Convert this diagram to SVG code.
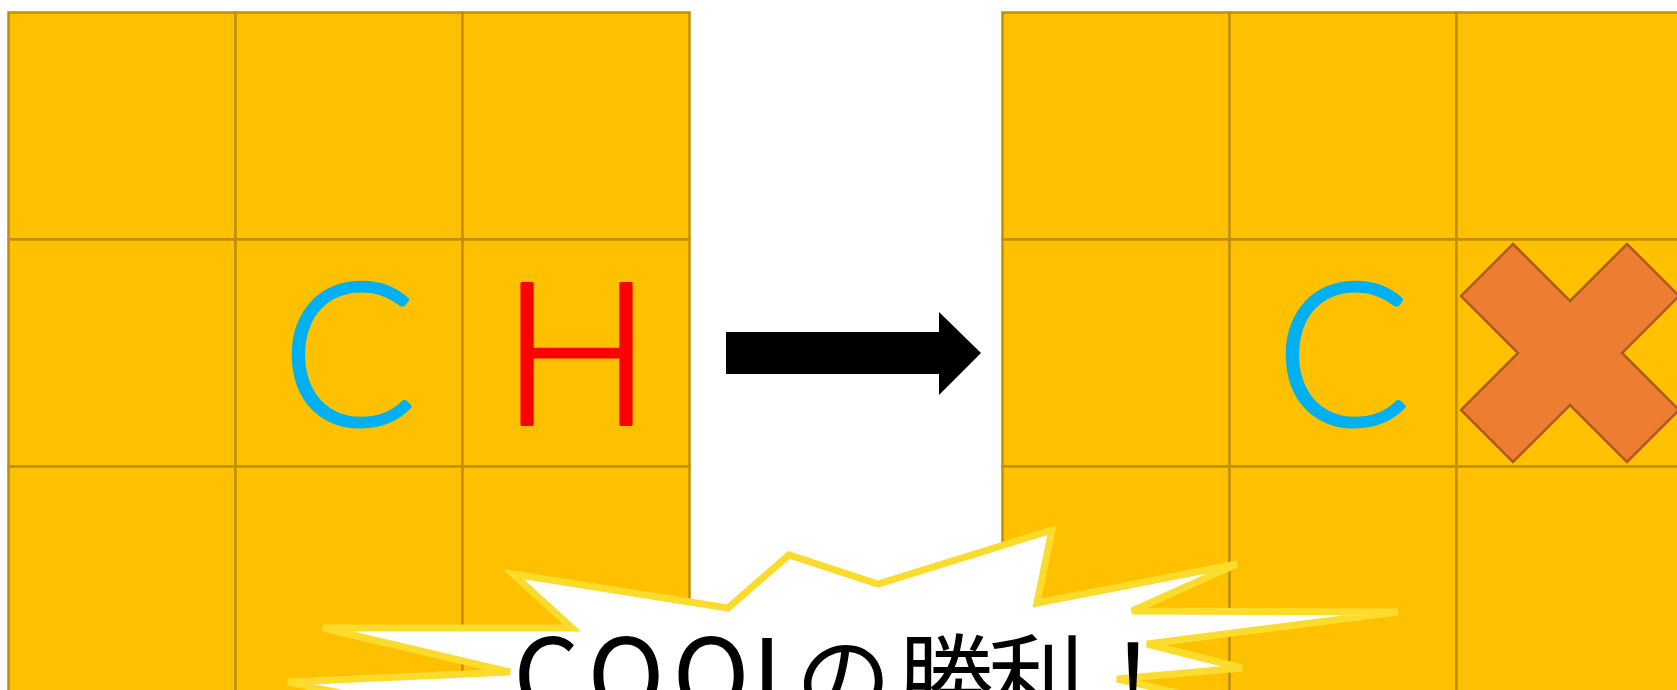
<svg xmlns="http://www.w3.org/2000/svg" width="1677" height="690" viewBox="0 0 1677 690">
  <style>
    .cell { fill: #FFC000; stroke: #BF9000; stroke-width: 2.5; }
    .piece { font-family: "Lato", "Noto Sans", "Liberation Sans", sans-serif; font-weight: 300; font-size: 200px; text-anchor: middle; stroke-width: 3; stroke-linejoin: round; }
    .c { fill: #00B0F0; stroke: #00B0F0; }
    .h { fill: #FF0000; stroke: #FF0000; }
    .cross { fill: #ED7D31; stroke: #AE5A21; stroke-width: 2.5; stroke-linejoin: miter; }
    .burst { fill: #FFFFFF; stroke: #FBDB2C; stroke-width: 7; stroke-linejoin: miter; stroke-miterlimit: 4; }
    .shout { font-family: "Noto Sans CJK JP", "Noto Sans", sans-serif; font-size: 96px; fill: #000000; text-anchor: middle; }
  </style>
  <defs>
    <!-- one 3x3 board, cell size 227 -->
    <g id="board">
      <rect class="cell" x="0" y="0" width="227" height="227"/>
      <rect class="cell" x="227" y="0" width="227" height="227"/>
      <rect class="cell" x="454" y="0" width="227" height="227"/>
      <rect class="cell" x="0" y="227" width="227" height="227"/>
      <rect class="cell" x="227" y="227" width="227" height="227"/>
      <rect class="cell" x="454" y="227" width="227" height="227"/>
      <rect class="cell" x="0" y="454" width="227" height="227"/>
      <rect class="cell" x="227" y="454" width="227" height="227"/>
      <rect class="cell" x="454" y="454" width="227" height="227"/>
    </g>
  </defs>

  <!-- board before the move -->
  <g id="board-before">
    <use href="#board" x="8.5" y="12.5"/>
    <text class="piece c" x="349" y="425">C</text>
    <text class="piece h" x="576.5" y="425">H</text>
  </g>

  <!-- board after the move -->
  <g id="board-after">
    <use href="#board" x="1002.5" y="12.5"/>
    <text class="piece c" x="1343" y="425">C</text>
    <polygon class="cross" points="1513,244 1570,301 1627,244 1679,296 1622,353 1679,410 1627,462 1570,405 1513,462 1461,410 1518,353 1461,296"/>
  </g>

  <!-- transition arrow -->
  <g id="connectors">
    <polygon points="726,332 939,332 939,312 981,353 939,395 939,374 726,374" fill="#000000"/>
  </g>

  <!-- victory burst -->
  <g id="burst">
    <polygon class="burst" points="400,706 288,682 510,672 323,628 572,628 513,574 728,608 789,555 878,584 1052,530 1037,603 1237,564 1132,611 1398,612 1147,644 1242,668 1117,679 1300,721 400,721"/>
    <text class="shout" y="714"><tspan x="546.5 626 711 780" font-size="104">COOL</tspan><tspan x="843.5 945.5 1036 1133">の勝利！</tspan></text>
  </g>
</svg>
